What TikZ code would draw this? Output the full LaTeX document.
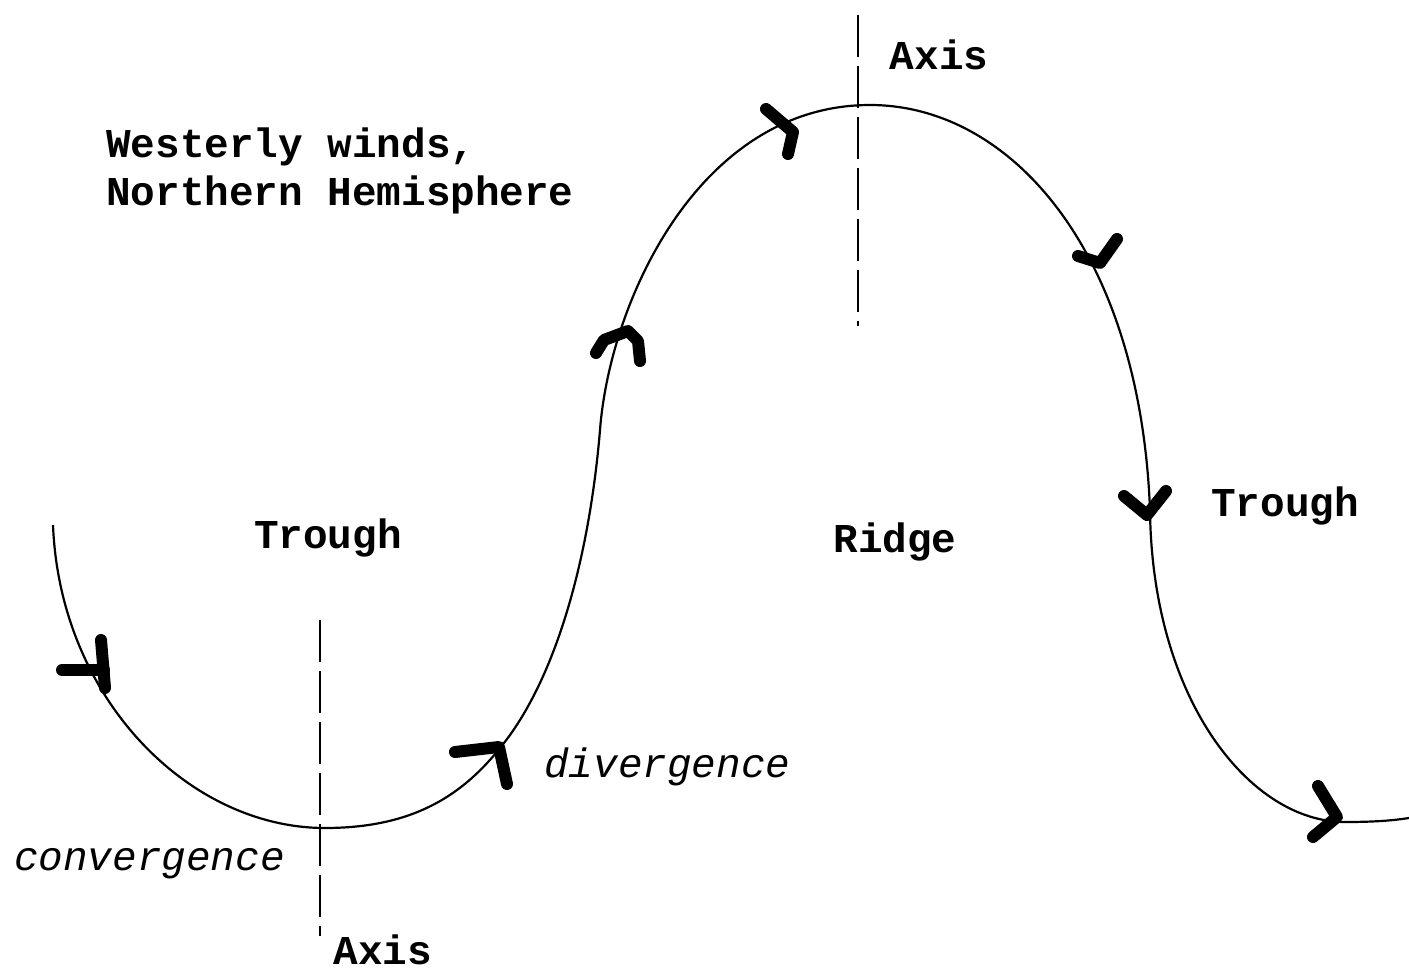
\documentclass[tikz,border=0pt]{standalone}
\usepackage{fontspec}
\setmonofont{Liberation Mono}
\begin{document}
\begin{tikzpicture}[x=1pt,y=-1pt,
  wave/.style={line width=2.2pt},
  axisline/.style={line width=2pt, dash pattern=on 42pt off 9pt},
  barb/.style={line width=12pt, line cap=round, line join=round},
  lbl/.style={font=\fontsize{41}{48}\selectfont\ttfamily\bfseries, inner sep=0pt},
  ilbl/.style={font=\fontsize{41}{48}\selectfont\ttfamily\itshape, inner sep=0pt, anchor=west}]
\useasboundingbox[fill=white] (0,0) rectangle (1409,976);
% wave
\draw[wave] (53,525) .. controls (60,700) and (190,828) .. (325,828)
  .. controls (420,828) and (470,790) .. (510,735)
  .. controls (560,665) and (590,550) .. (600,430)
  .. controls (610,300) and (700,105) .. (870,105)
  .. controls (1010,105) and (1140,250) .. (1150,510)
  .. controls (1152,700) and (1250,822) .. (1345,822)
  .. controls (1370,822) and (1390,821) .. (1409,818);
% axes
\coordinate (a1t) at (320,620);
\coordinate (a1b) at (320,936);
\coordinate (a2t) at (858,15);
\coordinate (a2b) at (858,326);
\draw[axisline] (a1t) -- (a1b);
\draw[axisline] (a2t) -- (a2b);
% barbs
\draw[barb] (62,670) -- (104,670);
\draw[barb] (101,640) -- (105,688);
\draw[barb] (455,752) -- (499,747) -- (507,784);
\draw[barb] (596,353) -- (604,340) -- (628,331) -- (638,341) -- (640,361);
\draw[barb] (766,109) -- (793,132) -- (788,154);
\draw[barb] (1078,256) -- (1100,263) -- (1117,239);
\draw[barb] (1124,496) -- (1147,515) -- (1166,491);
\draw[barb] (1318,786) -- (1337,817) -- (1313,837);
% labels
\node[lbl, anchor=west] (title1) at (106,147) {Westerly winds,};
\node[lbl, anchor=west] (title2) at (106,195) {Northern Hemisphere};
\node[lbl] (axistop) at (939,55) {Axis};
\node[lbl] (axisbot) at (383,950) {Axis};
\node[lbl] (trough1) at (328,538) {Trough};
\node[lbl] (ridge) at (895,542) {Ridge};
\node[lbl] (trough2) at (1285,506) {Trough};
\node[ilbl] (div) at (544,767) {divergence};
\node[ilbl] (conv) at (14,864) {convergence};
\end{tikzpicture}
\end{document}
